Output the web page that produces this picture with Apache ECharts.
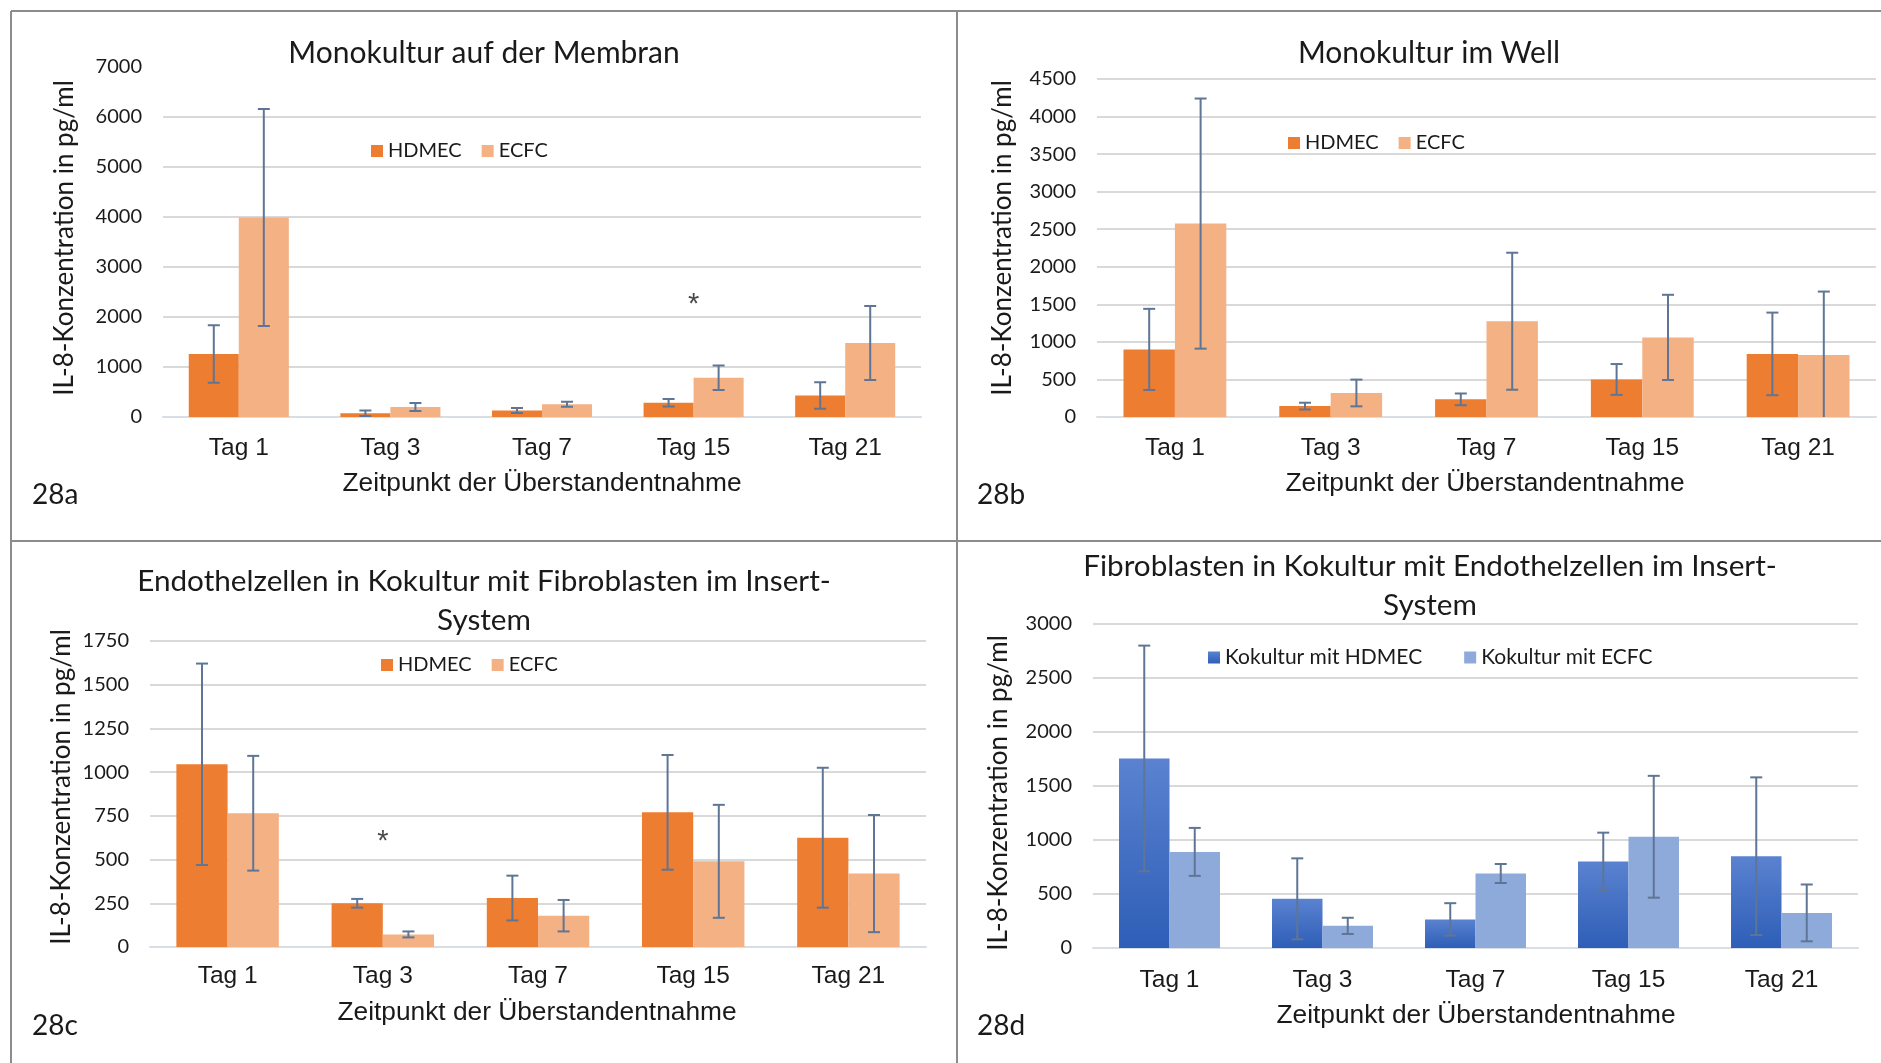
<!DOCTYPE html>
<html>
<head>
<meta charset="utf-8">
<title>IL-8-Konzentration</title>
<script src="https://cdn.jsdelivr.net/npm/echarts@6/dist/echarts.min.js"></script>
<style>
  html, body { margin: 0; padding: 0; background: #ffffff; }
  #chart { width: 1881px; height: 1063px; }
</style>
</head>
<body>
<div id="chart"></div>
<script>
// ---- data -------------------------------------------------------------
const categories = ['Tag 1', 'Tag 3', 'Tag 7', 'Tag 15', 'Tag 21'];

// 28a: Monokultur auf der Membran (mean and SD, pg/ml)
const aHdmecMean = [1260, 75, 130, 285, 430];
const aHdmecSd   = [575, 55, 50, 75, 265];
const aEcfcMean  = [3990, 200, 255, 785, 1480];
const aEcfcSd    = [2170, 80, 50, 245, 740];
const aStar      = [[3, 2360]];

// 28b: Monokultur im Well
const bHdmecMean = [900, 145, 235, 500, 840];
const bHdmecSd   = [540, 45, 78, 205, 550];
const bEcfcMean  = [2575, 320, 1275, 1060, 825];
const bEcfcSd    = [1665, 178, 912, 567, 845];

// 28c: Endothelzellen in Kokultur mit Fibroblasten im Insert-System
const cHdmecMean = [1045, 250, 280, 770, 625];
const cHdmecSd   = [576, 25, 128, 328, 400];
const cEcfcMean  = [765, 72, 179, 490, 420];
const cEcfcSd    = [328, 17, 90, 323, 335];
const cStar      = [[1, 635]];

// 28d: Fibroblasten in Kokultur mit Endothelzellen im Insert-System
const dHdmecMean = [1755, 455, 265, 800, 850];
const dHdmecSd   = [1045, 375, 150, 268, 730];
const dEcfcMean  = [890, 205, 690, 1030, 325];
const dEcfcSd    = [222, 75, 88, 564, 263];

// axis ranges
const yMax      = [7000, 4500, 1750, 3000];
const yInterval = [1000, 500, 250, 500];

// ---- styling ----------------------------------------------------------
const CALIBRI = 'Lato, "Open Sans", sans-serif';
const ARIAL = '"Liberation Sans", Arial, sans-serif';
const TEXT = '#1a1a1a';
const GAP = 0.34;
const ORANGE = '#ed7d31';
const ORANGE_LIGHT = '#f4b183';
const BLUE_GRAD = new echarts.graphic.LinearGradient(0, 0, 0, 1, [
  { offset: 0, color: '#5a82d0' },
  { offset: 1, color: '#2e5eb7' }
]);
const BLUE_LIGHT = '#8eaadb';
const ERR = '#5f7596';

const grids = [
  { left: 163, top: 67, width: 758, height: 350 },
  { left: 1097, top: 79, width: 779, height: 338 },
  { left: 150, top: 641, width: 776, height: 306 },
  { left: 1093, top: 624, width: 765, height: 324 }
];
const catLabelMargin = [19, 19, 17, 20];

const panels = [
  { names: ['HDMEC', 'ECFC'], means: [aHdmecMean, aEcfcMean], sds: [aHdmecSd, aEcfcSd],
    colors: [ORANGE, ORANGE_LIGHT], star: aStar },
  { names: ['HDMEC', 'ECFC'], means: [bHdmecMean, bEcfcMean], sds: [bHdmecSd, bEcfcSd],
    colors: [ORANGE, ORANGE_LIGHT] },
  { names: ['HDMEC', 'ECFC'], means: [cHdmecMean, cEcfcMean], sds: [cHdmecSd, cEcfcSd],
    colors: [ORANGE, ORANGE_LIGHT], star: cStar },
  { names: ['Kokultur mit HDMEC', 'Kokultur mit ECFC'], means: [dHdmecMean, dEcfcMean],
    sds: [dHdmecSd, dEcfcSd], colors: [BLUE_GRAD, BLUE_LIGHT] }
];

// error bar: vertical line with caps, shifted onto its bar inside the category band
function renderErrorBar(params, api) {
  const idx = api.value(0);
  const lo = api.value(1);
  const hi = api.value(2);
  const side = api.value(3);
  const band = api.size([1, 0])[0];
  const barW = band * (1 - GAP) / 2;
  const x = api.coord([idx, 0])[0] + side * barW / 2;
  const yHi = api.coord([idx, hi])[1];
  const yLo = api.coord([idx, Math.max(lo, 0)])[1];
  const cap = 6;
  const style = { stroke: ERR, lineWidth: 2, fill: null };
  const children = [
    { type: 'line', shape: { x1: x, y1: yHi, x2: x, y2: yLo }, style },
    { type: 'line', shape: { x1: x - cap, y1: yHi, x2: x + cap, y2: yHi }, style }
  ];
  if (lo >= 0) {
    children.push({ type: 'line', shape: { x1: x - cap, y1: yLo, x2: x + cap, y2: yLo }, style });
  }
  return { type: 'group', children };
}

const xAxes = [], yAxes = [], series = [], legends = [];

panels.forEach((p, i) => {
  xAxes.push({
    type: 'category', gridIndex: i, data: categories,
    axisTick: { show: false },
    axisLine: { lineStyle: { color: '#d9dde4', width: 2 } },
    axisLabel: { fontFamily: ARIAL, fontSize: 24.5, color: TEXT, margin: catLabelMargin[i] }
  });
  yAxes.push({
    type: 'value', gridIndex: i, min: 0, max: yMax[i], interval: yInterval[i],
    axisLine: { show: false }, axisTick: { show: false },
    axisLabel: { fontFamily: CALIBRI, fontSize: 20, color: TEXT, margin: 21,
                 formatter: v => String(v) },
    splitLine: { lineStyle: { color: '#d9d9d9', width: 2 }, showMaxLine: i !== 0 }
  });
  p.names.forEach((name, k) => {
    series.push({
      type: 'bar', name, xAxisIndex: i, yAxisIndex: i,
      data: p.means[k],
      itemStyle: { color: p.colors[k] },
      barGap: '0%', barCategoryGap: (GAP * 100) + '%',
      emphasis: { disabled: true }
    });
  });
  p.names.forEach((name, k) => {
    series.push({
      type: 'custom', name: name + ' SD', xAxisIndex: i, yAxisIndex: i,
      renderItem: renderErrorBar, z: 5, silent: true,
      encode: { x: 0, y: [1, 2] },
      data: p.means[k].map((m, j) => [j, m - p.sds[k][j], m + p.sds[k][j], k === 0 ? -1 : 1])
    });
  });
  if (p.star) {
    series.push({
      type: 'scatter', name: 'signifikant', xAxisIndex: i, yAxisIndex: i,
      data: p.star, symbolSize: 1, z: 6, silent: true,
      itemStyle: { color: 'transparent' },
      label: { show: true, position: 'inside', formatter: '*', fontFamily: ARIAL,
               fontSize: 29, color: TEXT, offset: [0, 6] }
    });
  }
});

const legendPos = [
  { left: 366, top: 136, itemGap: 20, fontSize: 20 },
  { left: 1283, top: 128, itemGap: 20, fontSize: 20 },
  { left: 376, top: 650, itemGap: 20, fontSize: 20 },
  { left: 1203, top: 642, itemGap: 42, fontSize: 21 }
];
panels.forEach((p, i) => {
  const lp = legendPos[i];
  legends.push({
    data: p.names, icon: 'rect', itemWidth: 12, itemHeight: 12, itemGap: lp.itemGap,
    left: lp.left, top: lp.top, selectedMode: false,
    textStyle: { fontFamily: CALIBRI, fontSize: lp.fontSize, color: TEXT }
  });
});

// titles, axis titles and panel tags
function label(text, x, y, size, family, align, extra) {
  return Object.assign({
    type: 'text', x, y, silent: true,
    style: { text, fontSize: size, fontFamily: family, fill: TEXT,
             textAlign: align || 'center', textVerticalAlign: 'middle', lineHeight: 39 }
  }, extra || {});
}
const yName = 'IL-8-Konzentration in pg/ml';
const xName = 'Zeitpunkt der Überstandentnahme';
const FRAME = { stroke: '#8c8c8c', lineWidth: 2 };
const graphics = [
  // frame
  { type: 'line', shape: { x1: 11, y1: 11, x2: 1881, y2: 11 }, style: FRAME },
  { type: 'line', shape: { x1: 11, y1: 11, x2: 11, y2: 1063 }, style: FRAME },
  { type: 'line', shape: { x1: 957, y1: 11, x2: 957, y2: 1063 }, style: FRAME },
  { type: 'line', shape: { x1: 11, y1: 541, x2: 1881, y2: 541 }, style: FRAME },
  // titles
  label('Monokultur auf der Membran', 484, 53, 30, CALIBRI),
  label('Monokultur im Well', 1429, 53, 30, CALIBRI),
  label('Endothelzellen in Kokultur mit Fibroblasten im Insert-\nSystem', 484, 601, 29.7, CALIBRI),
  label('Fibroblasten in Kokultur mit Endothelzellen im Insert-\nSystem', 1430, 586, 29.7, CALIBRI),
  // y axis titles
  label(yName, 65, 238, 26, CALIBRI, 'center', { rotation: Math.PI / 2 }),
  label(yName, 1003, 238, 26, CALIBRI, 'center', { rotation: Math.PI / 2 }),
  label(yName, 62, 787, 26, CALIBRI, 'center', { rotation: Math.PI / 2 }),
  label(yName, 999, 793, 26, CALIBRI, 'center', { rotation: Math.PI / 2 }),
  // x axis titles
  label(xName, 542, 484, 26.3, ARIAL),
  label(xName, 1485, 484, 26.3, ARIAL),
  label(xName, 537, 1013, 26.3, ARIAL),
  label(xName, 1476, 1016, 26.3, ARIAL),
  // panel tags
  label('28a', 32, 495, 28, CALIBRI, 'left'),
  label('28b', 977, 495, 28, CALIBRI, 'left'),
  label('28c', 32, 1026, 28, CALIBRI, 'left'),
  label('28d', 977, 1026, 28, CALIBRI, 'left')
];

const chart = echarts.init(document.getElementById('chart'), null, { renderer: 'canvas' });
chart.setOption({
  backgroundColor: '#ffffff',
  animation: false,
  grid: grids,
  xAxis: xAxes,
  yAxis: yAxes,
  legend: legends,
  series,
  graphic: { elements: graphics }
});
</script>
</body>
</html>
